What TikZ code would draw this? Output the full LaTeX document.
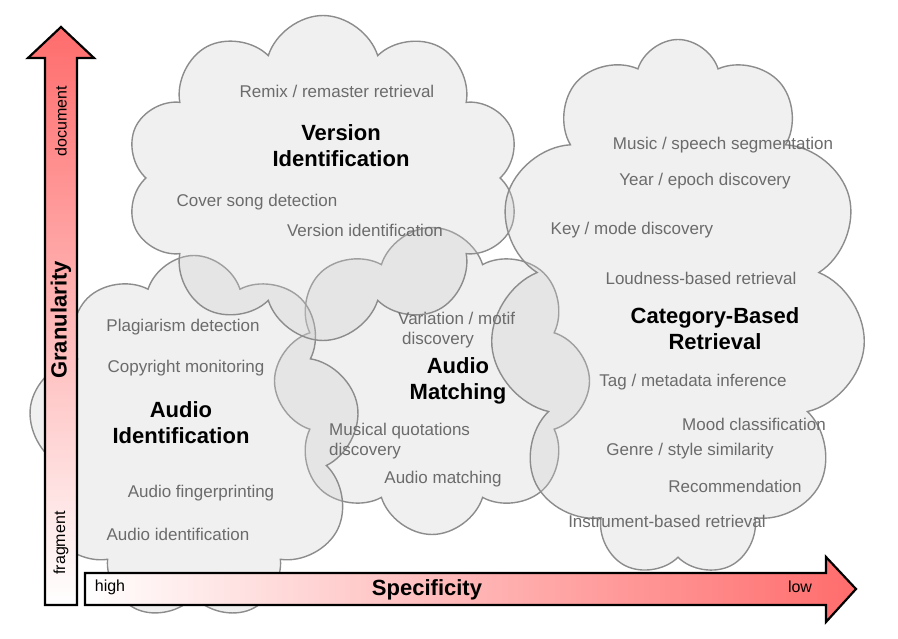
\documentclass[tikz,border=0pt]{standalone}
\usepackage{fontspec}
\setmainfont{Liberation Sans}
\usetikzlibrary{shapes.symbols}
\definecolor{arrowred}{RGB}{255,108,108}
\tikzset{
  blob/.style={cloud, cloud puff arc=145, cloud ignores aspect, draw=black!45, line width=1.4pt, fill=black!20, fill opacity=0.3, inner sep=0pt},
  task/.style={text=black!58, font=\fontsize{17}{20}\selectfont, inner sep=0pt, align=left},
  area/.style={font=\bfseries\fontsize{22}{26}\selectfont, inner sep=0pt, align=center},
  tick/.style={font=\fontsize{16}{18}\selectfont, inner sep=0pt}
}
\begin{document}
\begin{tikzpicture}[x=1pt, y=-1pt]
\useasboundingbox (0,0) rectangle (898,639);
\node[blob, cloud puffs=8, minimum width=315pt, minimum height=307pt] (matching) at (432,381) {};
\node[blob, cloud puffs=9, minimum width=332pt, minimum height=365pt] (identification) at (194,438) {};
\node[blob, cloud puffs=10, minimum width=395pt, minimum height=325pt] (version) at (323,178) {};
\node[blob, cloud puffs=11, minimum width=376pt, minimum height=537pt] (category) at (678,308) {};

\node[area] (versiont) at (341,146) {Version\\Identification};
\node[task] (remix) at (337,91) {Remix / remaster retrieval};
\node[task] (cover) at (257,202) {Cover song detection};
\node[task] (versioni) at (365,230) {Version identification};

\node[area] (identt) at (181,423) {Audio\\Identification};
\node[task] (plagiarism) at (183,327) {Plagiarism detection};
\node[task] (copyright) at (186,368) {Copyright monitoring};
\node[task] (fingerprint) at (201,493) {Audio fingerprinting};
\node[task] (identi) at (178,534) {Audio identification};

\node[area] (matchingt) at (458,381) {Audio\\Matching};
\node[task, anchor=west] (variation) at (398,330) {Variation / motif\\\hspace*{4pt}discovery};
\node[task, anchor=west] (quotation) at (329,441) {Musical quotations\\discovery};
\node[task] (matchingi) at (443,479) {Audio matching};

\node[area] (categoryt) at (715,329) {Category-Based\\Retrieval};
\node[task] (speech) at (723,145) {Music / speech segmentation};
\node[task] (year) at (705,181) {Year / epoch discovery};
\node[task] (key) at (632,230) {Key / mode discovery};
\node[task] (loudness) at (701,278) {Loudness-based retrieval};
\node[task] (tag) at (693,382) {Tag / metadata inference};
\node[task] (mood) at (754,424) {Mood classification};
\node[task] (genre) at (690,451) {Genre / style similarity};
\node[task] (recommend) at (735,486) {Recommendation};
\node[task] (instrument) at (667,521) {Instrument-based retrieval};

\draw[line width=2.2pt, line join=miter, top color=arrowred, bottom color=white]
  (45,605)--(45,58)--(28,58)--(61,27)--(94,58)--(77,58)--(77,605)--cycle;
\draw[line width=2.2pt, line join=miter, left color=white, right color=arrowred]
  (85,573)--(826,573)--(826,557)--(856,589)--(826,622)--(826,605)--(85,605)--cycle;
\node[area, rotate=90] (granularity) at (61,320) {Granularity};
\node[tick, rotate=90] (document) at (61,121) {document};
\node[tick, rotate=90] (fragment) at (61,543) {fragment};
\node[area] (specificity) at (427,590) {Specificity};
\node[tick] (high) at (110,587) {high};
\node[tick] (low) at (800,587) {low};
\end{tikzpicture}
\end{document}
